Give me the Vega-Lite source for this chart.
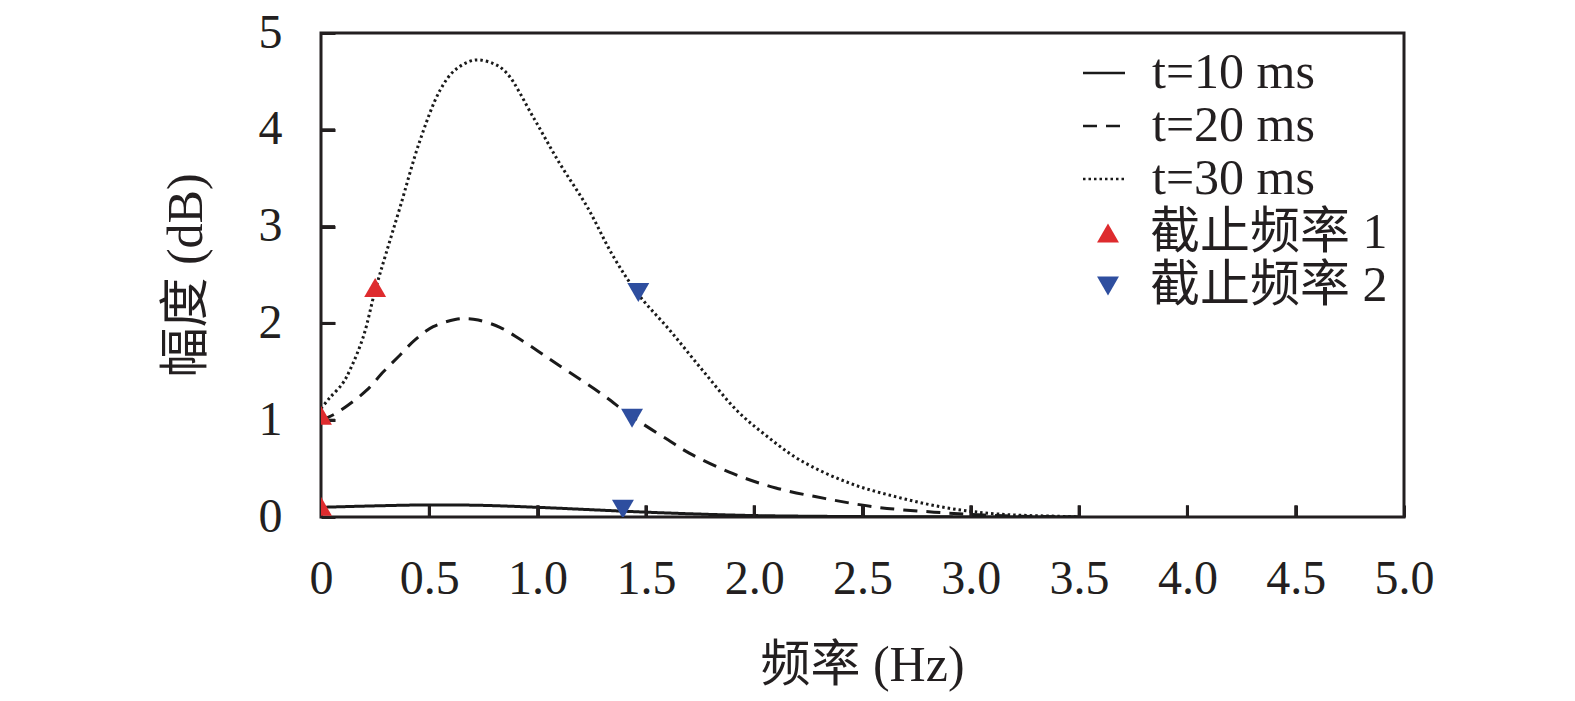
{
  "$schema": "https://vega.github.io/schema/vega-lite/v6.json",
  "autosize": {"type": "none"},
  "padding": {"left": 321, "top": 33, "right": 171, "bottom": 184},
  "width": 1083,
  "height": 484,
  "background": "white",
  "view": {"stroke": "#231f20", "strokeWidth": 3},
  "config": {
    "font": "Liberation Serif",
    "axis": {
      "grid": false,
      "domain": false,
      "labelFlush": false,
      "labelFont": "Liberation Serif",
      "labelFontSize": 48,
      "labelColor": "#231f20",
      "titleFont": "Liberation Serif, Noto Sans CJK SC",
      "titleFontSize": 50,
      "titleFontWeight": "normal",
      "titleColor": "#231f20"
    },
    "legend": {
      "labelFont": "Liberation Serif, Noto Sans CJK SC",
      "labelFontSize": 50,
      "labelColor": "#231f20",
      "labelLimit": 0,
      "padding": 0,
      "rowPadding": 3
    }
  },
  "datasets": {
    "curves": [
      {"f": 0, "a": 0.1, "s": "t=10 ms"},
      {"f": 0.25, "a": 0.115, "s": "t=10 ms"},
      {"f": 0.5, "a": 0.125, "s": "t=10 ms"},
      {"f": 0.75, "a": 0.12, "s": "t=10 ms"},
      {"f": 1.0, "a": 0.1, "s": "t=10 ms"},
      {"f": 1.25, "a": 0.075, "s": "t=10 ms"},
      {"f": 1.5, "a": 0.05, "s": "t=10 ms"},
      {"f": 1.75, "a": 0.03, "s": "t=10 ms"},
      {"f": 2.0, "a": 0.015, "s": "t=10 ms"},
      {"f": 2.5, "a": 0.004, "s": "t=10 ms"},
      {"f": 3.0, "a": 0.001, "s": "t=10 ms"},
      {"f": 3.5, "a": 0, "s": "t=10 ms"},
      {"f": 0, "a": 1.0, "s": "t=20 ms"},
      {"f": 0.06, "a": 1.06, "s": "t=20 ms"},
      {"f": 0.126, "a": 1.157, "s": "t=20 ms"},
      {"f": 0.211, "a": 1.31, "s": "t=20 ms"},
      {"f": 0.288, "a": 1.5, "s": "t=20 ms"},
      {"f": 0.357, "a": 1.656, "s": "t=20 ms"},
      {"f": 0.434, "a": 1.83, "s": "t=20 ms"},
      {"f": 0.518, "a": 1.966, "s": "t=20 ms"},
      {"f": 0.619, "a": 2.04, "s": "t=20 ms"},
      {"f": 0.67, "a": 2.05, "s": "t=20 ms"},
      {"f": 0.726, "a": 2.035, "s": "t=20 ms"},
      {"f": 0.826, "a": 1.96, "s": "t=20 ms"},
      {"f": 0.919, "a": 1.836, "s": "t=20 ms"},
      {"f": 1.011, "a": 1.7, "s": "t=20 ms"},
      {"f": 1.103, "a": 1.56, "s": "t=20 ms"},
      {"f": 1.29, "a": 1.28, "s": "t=20 ms"},
      {"f": 1.44, "a": 1.03, "s": "t=20 ms"},
      {"f": 1.6, "a": 0.8, "s": "t=20 ms"},
      {"f": 1.7, "a": 0.66, "s": "t=20 ms"},
      {"f": 1.9, "a": 0.45, "s": "t=20 ms"},
      {"f": 2.1, "a": 0.3, "s": "t=20 ms"},
      {"f": 2.33, "a": 0.19, "s": "t=20 ms"},
      {"f": 2.57, "a": 0.1, "s": "t=20 ms"},
      {"f": 2.83, "a": 0.05, "s": "t=20 ms"},
      {"f": 3.06, "a": 0.02, "s": "t=20 ms"},
      {"f": 3.3, "a": 0.005, "s": "t=20 ms"},
      {"f": 3.5, "a": 0, "s": "t=20 ms"},
      {"f": 0, "a": 1.12, "s": "t=30 ms"},
      {"f": 0.04, "a": 1.23, "s": "t=30 ms"},
      {"f": 0.1, "a": 1.38, "s": "t=30 ms"},
      {"f": 0.134, "a": 1.52, "s": "t=30 ms"},
      {"f": 0.195, "a": 1.86, "s": "t=30 ms"},
      {"f": 0.25, "a": 2.34, "s": "t=30 ms"},
      {"f": 0.3, "a": 2.72, "s": "t=30 ms"},
      {"f": 0.365, "a": 3.2, "s": "t=30 ms"},
      {"f": 0.457, "a": 3.89, "s": "t=30 ms"},
      {"f": 0.55, "a": 4.41, "s": "t=30 ms"},
      {"f": 0.62, "a": 4.62, "s": "t=30 ms"},
      {"f": 0.71, "a": 4.72, "s": "t=30 ms"},
      {"f": 0.8, "a": 4.68, "s": "t=30 ms"},
      {"f": 0.86, "a": 4.58, "s": "t=30 ms"},
      {"f": 0.98, "a": 4.13, "s": "t=30 ms"},
      {"f": 1.1, "a": 3.66, "s": "t=30 ms"},
      {"f": 1.23, "a": 3.2, "s": "t=30 ms"},
      {"f": 1.35, "a": 2.69, "s": "t=30 ms"},
      {"f": 1.465, "a": 2.3, "s": "t=30 ms"},
      {"f": 1.61, "a": 1.93, "s": "t=30 ms"},
      {"f": 1.76, "a": 1.52, "s": "t=30 ms"},
      {"f": 1.92, "a": 1.1, "s": "t=30 ms"},
      {"f": 2.05, "a": 0.85, "s": "t=30 ms"},
      {"f": 2.21, "a": 0.59, "s": "t=30 ms"},
      {"f": 2.44, "a": 0.35, "s": "t=30 ms"},
      {"f": 2.67, "a": 0.2, "s": "t=30 ms"},
      {"f": 2.9, "a": 0.09, "s": "t=30 ms"},
      {"f": 3.13, "a": 0.03, "s": "t=30 ms"},
      {"f": 3.44, "a": 0.005, "s": "t=30 ms"},
      {"f": 3.5, "a": 0, "s": "t=30 ms"}
    ],
    "cutoffs": [
      {"f": 0, "a": 0.11, "c": "截止频率 1"},
      {"f": 0, "a": 1.05, "c": "截止频率 1"},
      {"f": 0.25, "a": 2.37, "c": "截止频率 1"},
      {"f": 1.394, "a": 0.08, "c": "截止频率 2"},
      {"f": 1.436, "a": 1.02, "c": "截止频率 2"},
      {"f": 1.465, "a": 2.32, "c": "截止频率 2"}
    ],
    "xticks": [
      {"f": 0.5}, {"f": 1.0}, {"f": 1.5}, {"f": 2.0}, {"f": 2.5},
      {"f": 3.0}, {"f": 3.5}, {"f": 4.0}, {"f": 4.5}
    ],
    "yticks": [
      {"a": 1}, {"a": 2}, {"a": 3}, {"a": 4}
    ]
  },
  "layer": [
    {
      "data": {"name": "curves"},
      "mark": {"type": "line", "interpolate": "catmull-rom", "color": "#1a1a1a", "strokeWidth": 3, "clip": true},
      "encoding": {
        "x": {
          "field": "f", "type": "quantitative",
          "scale": {"domain": [0, 5], "nice": false},
          "axis": {
            "values": [0, 0.5, 1, 1.5, 2, 2.5, 3, 3.5, 4, 4.5, 5],
            "labelExpr": "datum.value == 0 ? '0' : format(datum.value, '.1f')",
            "ticks": true,
            "tickColor": "#231f20",
            "tickWidth": 3,
            "tickSize": -12,
            "labelPadding": 50,
            "title": "频率 (Hz)",
            "titleX": 541,
            "titleY": 148,
            "titleBaseline": "middle",
            "titleAlign": "center"
          }
        },
        "y": {
          "field": "a", "type": "quantitative",
          "scale": {"domain": [0, 5], "nice": false},
          "axis": {
            "values": [0, 1, 2, 3, 4, 5],
            "format": "d",
            "ticks": true,
            "tickColor": "#231f20",
            "tickWidth": 3,
            "tickSize": -14,
            "labelPadding": 53,
            "title": "幅度 (dB)",
            "titleX": -135,
            "titleY": 242,
            "titleAngle": -90,
            "titleBaseline": "middle",
            "titleAlign": "center"
          }
        },
        "strokeDash": {
          "field": "s", "type": "nominal",
          "scale": {"domain": ["t=10 ms", "t=20 ms", "t=30 ms"], "range": [[1, 0], [14, 9], [2.5, 3]]},
          "legend": {
            "title": null,
            "orient": "none",
            "legendX": 758,
            "legendY": 15,
            "symbolType": "stroke",
            "symbolSize": 1764,
            "symbolStrokeWidth": 2.5,
            "symbolStrokeColor": "#1a1a1a",
            "labelFont": "Liberation Serif",
            "labelFontSize": 50,
            "labelLimit": 0,
            "labelOffset": 23
          }
        }
      }
    },
    {
      "data": {"name": "xticks"},
      "mark": {"type": "rule", "color": "#231f20", "strokeWidth": 3},
      "encoding": {
        "x": {"field": "f", "type": "quantitative"},
        "y": {"datum": 0},
        "y2": {"datum": 0.12}
      }
    },
    {
      "data": {"name": "yticks"},
      "mark": {"type": "rule", "color": "#231f20", "strokeWidth": 3},
      "encoding": {
        "y": {"field": "a", "type": "quantitative"},
        "x": {"datum": 0},
        "x2": {"datum": 0.065}
      }
    },
    {
      "data": {"name": "cutoffs"},
      "mark": {"type": "point", "filled": true, "size": 480, "opacity": 1, "clip": true},
      "encoding": {
        "x": {"field": "f", "type": "quantitative"},
        "y": {"field": "a", "type": "quantitative"},
        "shape": {
          "field": "c", "type": "nominal",
          "scale": {"domain": ["截止频率 1", "截止频率 2"], "range": ["triangle-up", "triangle-down"]},
          "legend": {
            "title": null,
            "orient": "none",
            "legendX": 762,
            "legendY": 175,
            "symbolSize": 480,
            "symbolOpacity": 1,
            "labelFont": "Liberation Serif, Noto Sans CJK SC",
            "labelFontSize": 50,
            "labelLimit": 0,
            "labelOffset": 17
          }
        },
        "color": {
          "field": "c", "type": "nominal",
          "scale": {"domain": ["截止频率 1", "截止频率 2"], "range": ["#de2b2e", "#2e4e9f"]}
        }
      }
    }
  ]
}
